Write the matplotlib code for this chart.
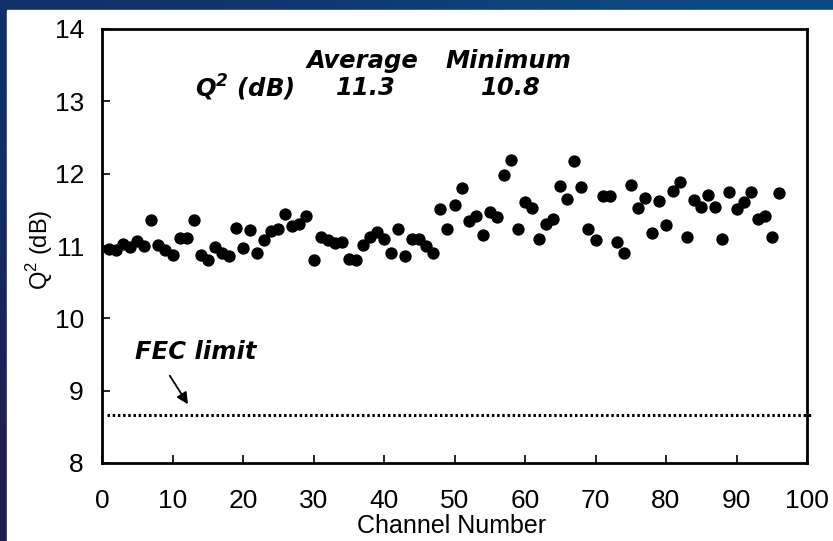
import numpy as np
import matplotlib.pyplot as plt
from matplotlib.colors import LinearSegmentedColormap
from matplotlib.patches import Rectangle

# Q^2 per channel
channels = np.arange(1, 97)
q2_db = [10.96, 10.94, 11.03, 10.99, 11.07, 11.00, 11.36, 11.02, 10.94, 10.87,
         11.11, 11.11, 11.36, 10.87, 10.81, 10.98, 10.91, 10.86, 11.25, 10.97,
         11.22, 10.90, 11.08, 11.21, 11.24, 11.44, 11.27, 11.31, 11.42, 10.81,
         11.12, 11.08, 11.04, 11.05, 10.82, 10.81, 11.01, 11.13, 11.19, 11.10,
         10.91, 11.24, 10.86, 11.10, 11.10, 11.00, 10.90, 11.51, 11.23, 11.57,
         11.80, 11.34, 11.42, 11.15, 11.47, 11.40, 11.98, 12.19, 11.23, 11.61,
         11.53, 11.10, 11.31, 11.37, 11.83, 11.65, 12.18, 11.82, 11.23, 11.08,
         11.69, 11.69, 11.05, 10.91, 11.85, 11.52, 11.67, 11.18, 11.62, 11.29,
         11.76, 11.88, 11.12, 11.63, 11.54, 11.70, 11.54, 11.10, 11.74, 11.51,
         11.61, 11.75, 11.37, 11.41, 11.12, 11.73]
fec_limit = 8.67
avg_q2 = "11.3"
min_q2 = "10.8"

plt.rcParams['font.family'] = ['Liberation Sans', 'DejaVu Sans']

fig = plt.figure(figsize=(8.33, 5.41), dpi=100)

# dark blue slide background with a white panel
bg = fig.add_axes([0, 0, 1, 1], zorder=-5)
cmap = LinearSegmentedColormap.from_list('bg', ['#1f1d4d', '#11306a', '#0a4d86'])
grad = np.array([[0.5, 1.0], [0.0, 0.45]])
bg.imshow(grad, cmap=cmap, aspect='auto', interpolation='bicubic',
          extent=[0, 1, 0, 1], vmin=0, vmax=1)
bg.add_patch(Rectangle((7 / 833, 0), 1, 1 - 10 / 541, color='white'))
bg.set_xlim(0, 1)
bg.set_ylim(0, 1)
bg.axis('off')

ax = fig.add_axes([102 / 833, 1 - 463 / 541, 705 / 833, 434 / 541])
ax.scatter(channels, q2_db, s=62, color='black', zorder=3)

# FEC limit line
ax.plot([0.7, 100.8], [fec_limit, fec_limit], color='black', lw=2.2,
        ls=(0, (0.8, 0.9)), clip_on=False)
ax.text(4.7, 9.53, "FEC limit", fontsize=17.5, family='DejaVu Sans',
        weight='bold', style='italic', ha='left', va='center')
ax.annotate('', xy=(12.4, 8.78), xytext=(9.4, 9.24),
            arrowprops=dict(arrowstyle='-|>', lw=1.3, color='black',
                            mutation_scale=17))

# summary text
txt = dict(fontsize=17.5, family='DejaVu Sans', weight='bold', style='italic',
           ha='center', va='center')
ax.text(36.9, 13.56, "Average", **txt)
ax.text(57.7, 13.56, "Minimum", **txt)
ax.text(20.3, 13.18, r"Q$^\mathregular{2}$ (dB)", **txt)
ax.text(37.4, 13.18, avg_q2, **txt)
ax.text(58.0, 13.18, min_q2, **txt)

ax.set_xlim(0, 100)
ax.set_ylim(8, 14)
ax.set_xticks(range(0, 101, 10))
ax.set_yticks(range(8, 15))
ax.tick_params(axis='x', direction='in', length=6, width=1.2, pad=19, labelsize=19)
ax.tick_params(axis='y', direction='in', length=6, width=1.2, pad=13, labelsize=19)
for s in ax.spines.values():
    s.set_linewidth(2)

fig.text(452 / 833, 1 - 526 / 541, "Channel Number", fontsize=18,
         ha='center', va='center')
fig.text(40 / 833, 1 - 250 / 541, r"Q$^\mathregular{2}$ (dB)", fontsize=17,
         rotation=90, ha='center', va='center')

fig.savefig('out.png', dpi=100)
